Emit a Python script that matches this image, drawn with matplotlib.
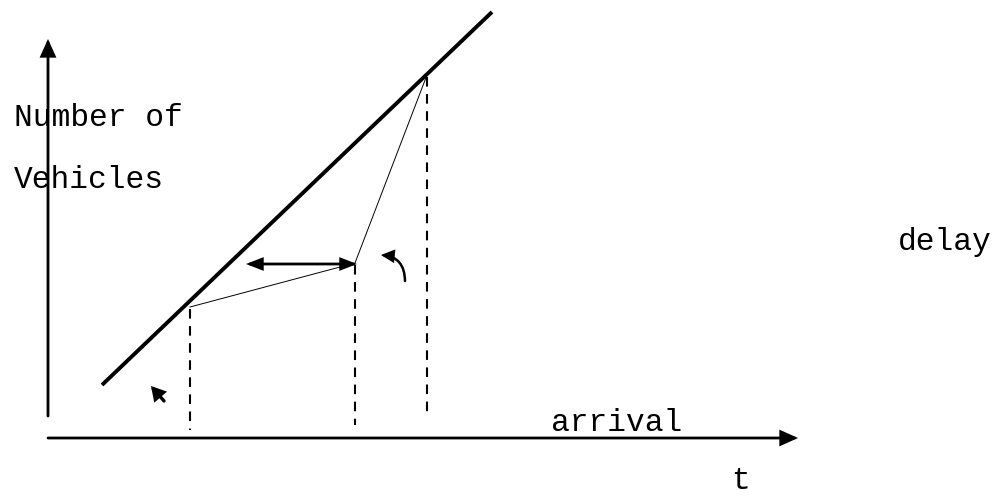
import matplotlib.pyplot as plt
from matplotlib.patches import FancyArrowPatch

# cumulative arrival line (thick) and queue curve, in picture units
arrival_x = [102, 492]
arrival_y = [385, 12]
queue_x = [190, 355, 427]
queue_y = [307, 263, 75]
# dashed drop lines: x, top, bottom
drop_x = [190, 355, 427]
drop_top = [309, 265, 77]
drop_bottom = [430, 425, 418]

labels = {
    "Number of": (14, 118),
    "Vehicles": (14, 180),
    "delay": (898, 242),
    "arrival": (551, 423),
    "t": (731, 481),
}

fig = plt.figure(figsize=(10.02, 4.98), dpi=100)
ax = fig.add_axes([0, 0, 1, 1])
ax.set_xlim(0, 1002)
ax.set_ylim(498, 0)
ax.axis("off")


def arrow(start, end, style, lw=2, **kw):
    p = FancyArrowPatch(start, end, arrowstyle=style, color="black", lw=lw,
                        mutation_scale=1, shrinkA=0, shrinkB=0, joinstyle="miter", **kw)
    ax.add_patch(p)


# axes arrows
arrow((48, 416), (48, 39), "-|>,head_length=10,head_width=4.5")
arrow((48, 438), (798, 438), "-|>,head_length=10,head_width=4.5")

ax.plot(arrival_x, arrival_y, color="black", lw=2.8, solid_capstyle="butt")
ax.plot(queue_x, queue_y, color="black", lw=0.7)

for x, t, b in zip(drop_x, drop_top, drop_bottom):
    ax.plot([x, x], [t, b], color="black", lw=1.5, dashes=(4.6, 3.6))

# delay double arrow
arrow((246, 264), (357, 264), "<|-|>,head_length=9,head_width=3.5")

# curved arrow
arrow((405, 281), (381, 255), "-|>,head_length=7,head_width=3.5", lw=1.8,
      connectionstyle="arc3,rad=0.45")

# small arrow near bottom
arrow((164, 401), (151, 386), "-|>,head_length=7,head_width=4", lw=2.4)

for txt, (x, y) in labels.items():
    ax.text(x, y, txt, fontsize=22.5, family="Liberation Mono", va="center", ha="left")

fig.savefig("out.png", dpi=100)
